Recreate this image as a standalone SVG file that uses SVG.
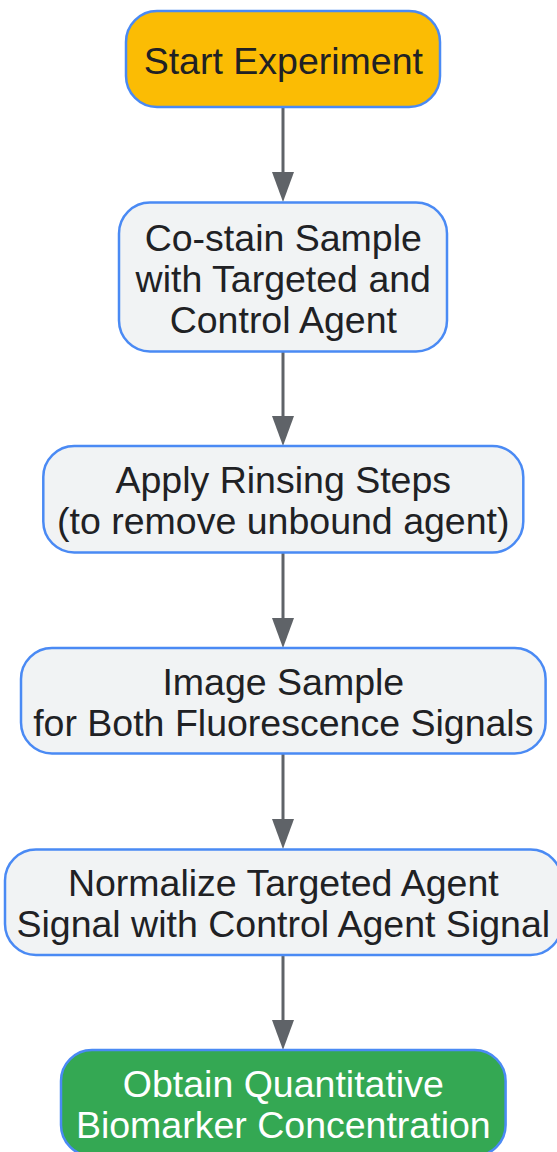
<svg xmlns="http://www.w3.org/2000/svg" width="557" height="1152" viewBox="0 0 557 1152">
<style>
.box{stroke:#4a8af4;stroke-width:2.5;fill:#f1f3f4}
.start{fill:#fbbc04}
.end{fill:#34a853}
.t{font-family:"Liberation Sans",Arial,sans-serif;font-size:37.5px;fill:#202124;text-anchor:middle}
.w{fill:#ffffff}
.edge{stroke:#5f6368;stroke-width:3;fill:none}
</style>
<defs>
<marker id="arr" markerUnits="userSpaceOnUse" markerWidth="31" markerHeight="23" refX="0" refY="11" orient="auto">
<path d="M0,0 L30,11 L0,22 z" fill="#5f6368"/>
</marker>
</defs>
<rect width="557" height="1152" fill="#ffffff"/>
<g id="connectors">
<line class="edge" x1="283" y1="108" x2="283" y2="172" marker-end="url(#arr)"/>
<line class="edge" x1="283" y1="352" x2="283" y2="416" marker-end="url(#arr)"/>
<line class="edge" x1="283" y1="553" x2="283" y2="618" marker-end="url(#arr)"/>
<line class="edge" x1="283" y1="754" x2="283" y2="819" marker-end="url(#arr)"/>
<line class="edge" x1="283" y1="956" x2="283" y2="1020" marker-end="url(#arr)"/>
</g>
<g id="start">
<rect class="box start" x="126" y="11" width="314" height="96" rx="31"/>
<text class="t" x="283.3" y="73.5">Start Experiment</text>
</g>
<g id="costain">
<rect class="box" x="119" y="202.5" width="328" height="149" rx="31"/>
<text class="t" x="283.3" y="250.5">Co-stain Sample</text>
<text class="t" x="283.3" y="291.5">with Targeted and</text>
<text class="t" x="283.3" y="332.5">Control Agent</text>
</g>
<g id="rinse">
<rect class="box" x="43.3" y="446" width="480" height="106.5" rx="31"/>
<text class="t" x="283.3" y="493">Apply Rinsing Steps</text>
<text class="t" x="283.3" y="534">(to remove unbound agent)</text>
</g>
<g id="image">
<rect class="box" x="21" y="648" width="524.6" height="105.5" rx="31"/>
<text class="t" x="283.3" y="694.5">Image Sample</text>
<text class="t" x="283.3" y="735.5">for Both Fluorescence Signals</text>
</g>
<g id="normalize">
<rect class="box" x="5" y="849.5" width="556.6" height="105.5" rx="31"/>
<text class="t" x="283.3" y="896">Normalize Targeted Agent</text>
<text class="t" x="283.3" y="937">Signal with Control Agent Signal</text>
</g>
<g id="obtain">
<rect class="box end" x="61" y="1050" width="444.6" height="106" rx="31"/>
<text class="t w" x="283.3" y="1097">Obtain Quantitative</text>
<text class="t w" x="283.3" y="1138">Biomarker Concentration</text>
</g>
</svg>
